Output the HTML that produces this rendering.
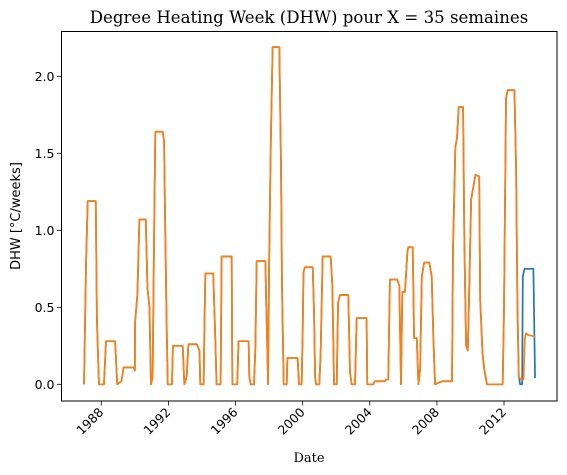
<!DOCTYPE html>
<html><head><meta charset="utf-8">
<style>
html,body{margin:0;padding:0;background:#fff;}
svg{display:block;}
.tick{font-family:"DejaVu Sans","Liberation Sans",sans-serif;font-size:12.5px;fill:#000;}
</style></head>
<body>
<svg id="chart" width="567" height="475" viewBox="0 0 567 475">
<text x="309" y="23" text-anchor="middle" font-family="DejaVu Serif, Liberation Serif, serif" font-size="16.6">Degree Heating Week (DHW) pour X = 35 semaines</text>
<text x="309" y="462" text-anchor="middle" font-family="DejaVu Serif, Liberation Serif, serif" font-size="13">Date</text>
<text transform="translate(20,216) rotate(-90)" text-anchor="middle" class="tick" style="font-size:13px">DHW [°C/weeks]</text>
<g id="plot"></g>
<rect x="61.5" y="31.5" width="495.5" height="369.5" fill="none" stroke="#000" stroke-width="1"/>
</svg>
<script>
const xTicks=[1988,1992,1996,2000,2004,2008,2012];
const yTicks=[0,0.5,1.0,1.5,2.0];
const yTickLabels=["0.0","0.5","1.0","1.5","2.0"];
const sharedYears=[1986.97,1987.09,1987.19,1987.67,1987.74,1987.86,1988.16,1988.28,1988.82,1988.95,1989.2,1989.33,1989.91,1990.0,1990.01,1990.15,1990.27,1990.65,1990.75,1990.87,1990.96,1991.06,1991.12,1991.18,1991.22,1991.66,1991.74,1991.82,1991.9,1991.96,1992.21,1992.27,1992.85,1992.95,1993.09,1993.19,1993.69,1993.85,1993.9,1994.1,1994.14,1994.2,1994.67,1994.77,1994.87,1995.11,1995.17,1995.77,1995.81,1996.1,1996.18,1996.78,1996.82,1996.9,1997.1,1997.18,1997.26,1997.78,1997.82,1997.94,1998.0,1998.1,1998.21,1998.61,1998.71,1998.77,1998.87,1999.05,1999.09,1999.7,1999.78,1999.94,2000.0,2000.05,2000.14,2000.6,2000.68,2000.74,2000.8,2000.99,2001.07,2001.19,2001.67,2001.77,2001.87,2002.03,2002.11,2002.23,2002.72,2002.82,2002.92,2003.12,2003.22,2003.81,2003.85,2004.2,2004.3,2004.9,2004.96,2005.1,2005.2,2005.64,2005.76,2005.86,2005.94,2006.1,2006.24,2006.3,2006.56,2006.64,2006.8,2006.9,2007.0,2007.1,2007.24,2007.55,2007.69,2007.79,2007.89,2008.3,2008.9,2008.96,2009.1,2009.2,2009.3,2009.56,2009.64,2009.74,2009.84,2009.92,2010.04,2010.2,2010.3,2010.52,2010.58,2010.72,2010.82,2010.98,2011.92,2012.0,2012.12,2012.22,2012.62,2012.72,2012.8,2012.88];
const sharedValues=[0,0.78,1.19,1.19,0.41,0,0,0.28,0.28,0,0.02,0.11,0.11,0.09,0.4,0.58,1.07,1.07,0.63,0.5,0,0.05,0.7,1.28,1.64,1.64,1.58,0.93,0.35,0,0,0.25,0.25,0,0.05,0.26,0.26,0.22,0,0,0.33,0.72,0.72,0.38,0,0,0.83,0.83,0,0,0.28,0.28,0.05,0,0,0.23,0.8,0.8,0.57,0,0.78,1.56,2.19,2.19,1.41,0.63,0,0,0.17,0.17,0,0,0.33,0.73,0.76,0.76,0.46,0.05,0,0,0.19,0.83,0.83,0.64,0,0,0.53,0.58,0.58,0.08,0,0,0.43,0.43,0,0,0.02,0.02,0.03,0.03,0.68,0.68,0.64,0,0.6,0.6,0.86,0.89,0.89,0.3,0.3,0,0.1,0.7,0.79,0.79,0.7,0.3,0,0.02,0.02,0.88,1.54,1.6,1.8,1.8,0.9,0.25,0.22,0.58,1.2,1.3,1.36,1.35,0.55,0.2,0.1,0,0,0.5,1.86,1.91,1.91,1.4,0.5,0.05];
const blueTailYears=[2012.96,2013.08,2013.12,2013.22,2013.75,2013.85];
const blueTailValues=[0,0,0.7,0.75,0.75,0.04];
const orangeTailYears=[2013.0,2013.16,2013.24,2013.31,2013.45,2013.85];
const orangeTailValues=[0.03,0.03,0.3,0.33,0.32,0.31];

const X=y=>101.3+(y-1988)*16.78;
const Y=v=>384.3-v*154;
const NS="http://www.w3.org/2000/svg";
const g=document.getElementById('plot');
function mk(t,a){const e=document.createElementNS(NS,t);for(const k in a)e.setAttribute(k,a[k]);return e;}
xTicks.forEach(t=>{
  const x=X(t);
  const l=mk('line',{x1:x,x2:x,y1:401,y2:405.5,stroke:'#000','stroke-width':0.8});
  
  
  g.appendChild(l);
  const tx=mk('text',{x:x+3,y:413,'text-anchor':'end',class:'tick',transform:`rotate(-45 ${x+3} 413)`});
  tx.textContent=t;
  
  
  g.appendChild(tx);
});
yTicks.forEach((t,i)=>{
  const y=Y(t);
  const l=mk('line',{x1:57,x2:61.5,y1:y,y2:y,stroke:'#000','stroke-width':0.8});
  
  
  g.appendChild(l);
  const tx=mk('text',{x:54.5,y:y+4.5,'text-anchor':'end',class:'tick'});
  tx.textContent=yTickLabels[i];
  
  
  g.appendChild(tx);
});
function path(ys,vs,color,name){
  const d=ys.map((y,i)=>(i?'L':'M')+X(y).toFixed(2)+' '+Y(vs[i]).toFixed(2)).join(' ');
  const p=mk('path',{d:d,fill:'none',stroke:color,'stroke-width':1.7,'stroke-linejoin':'round'});
  
  
  g.appendChild(p);
}
path(sharedYears.concat(blueTailYears),sharedValues.concat(blueTailValues),'#1f77b4','series-blue-line');
path(sharedYears.concat(orangeTailYears),sharedValues.concat(orangeTailValues),'#ff7f0e','series-orange-line');
</script>
</body></html>
